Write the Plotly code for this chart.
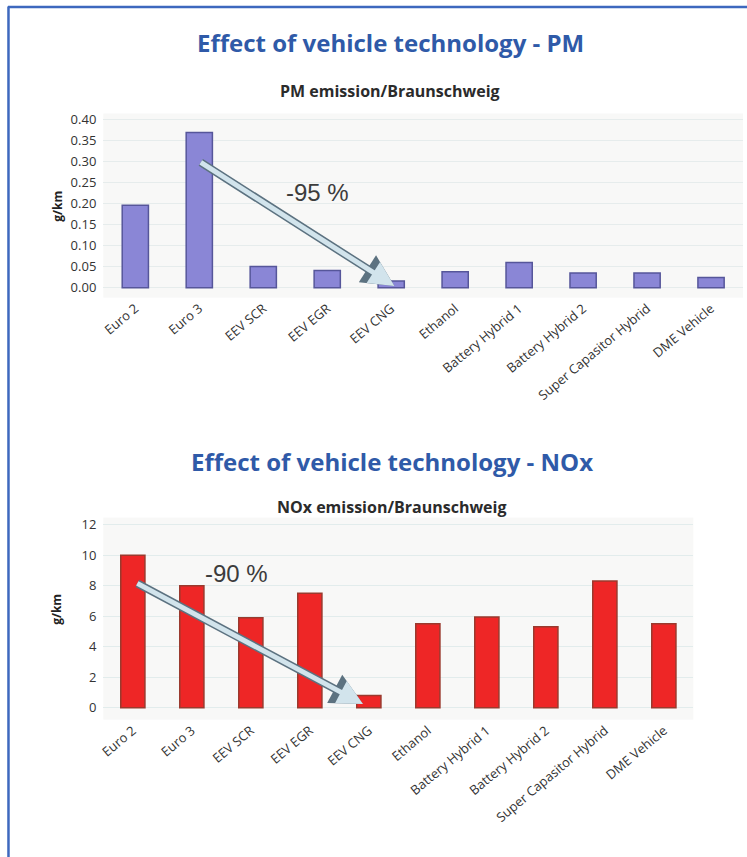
import plotly.graph_objects as go

W, H = 747, 857

categories = ["Euro 2", "Euro 3", "EEV SCR", "EEV EGR", "EEV CNG", "Ethanol",
              "Battery Hybrid 1", "Battery Hybrid 2", "Super Capasitor Hybrid", "DME Vehicle"]
pm_values = [0.196, 0.369, 0.050, 0.041, 0.016, 0.038, 0.060, 0.035, 0.035, 0.024]
nox_values = [10.0, 8.0, 5.9, 7.5, 0.8, 5.5, 5.95, 5.3, 8.3, 5.5]
pm_ticks = [0.0, 0.05, 0.10, 0.15, 0.20, 0.25, 0.30, 0.35, 0.40]
nox_ticks = [0, 2, 4, 6, 8, 10, 12]

BLUE = "#2F5AA8"
FONT = "Open Sans"


def px_x(p):
    return p / W


def px_y(p):
    return 1 - p / H


fig = go.Figure()

fig.add_trace(go.Bar(
    x=categories, y=pm_values, xaxis="x", yaxis="y",
    marker=dict(color="#8A86D6", line=dict(color="#56569A", width=1.5)),
))
fig.add_trace(go.Bar(
    x=categories, y=nox_values, xaxis="x2", yaxis="y2",
    marker=dict(color="#EE2626", line=dict(color="#9A3A2E", width=1.5)),
))

axis_common = dict(
    tickfont=dict(family=FONT, size=13, color="#333333"),
    showline=False, zeroline=False, ticks="",
)

fig.update_layout(
    width=W, height=H,
    margin=dict(l=0, r=0, t=0, b=0),
    paper_bgcolor="white",
    plot_bgcolor="#F8F8F7",
    showlegend=False,
    bargap=0.59,
    font=dict(family=FONT, color="#333333"),
    xaxis=dict(domain=[px_x(99), px_x(743)], anchor="y", tickangle=-40,
               showgrid=False, **axis_common),
    yaxis=dict(domain=[px_y(295), px_y(110)], anchor="x",
               range=[-0.0237, 0.414], tickvals=pm_ticks,
               ticktext=[f"{v:.2f}" for v in pm_ticks], ticklabelstandoff=6,
               gridcolor="#E6ECEC", gridwidth=1, **axis_common),
    xaxis2=dict(domain=[px_x(99), px_x(693)], anchor="y2", tickangle=-40,
                showgrid=False, **axis_common),
    yaxis2=dict(domain=[px_y(719), px_y(516)], anchor="x2",
                range=[-0.78, 12.46], tickvals=nox_ticks, ticklabelstandoff=6,
                gridcolor="#E2ECEC", gridwidth=1, **axis_common),
)

# arrows (outline + light fill)
arrows = [
    dict(xref="x", yref="y", x=4.05, y=0.004, ax=1.0, ay=0.30, text="-95 %",
         tx=2.85, ty=0.225),
    dict(xref="x2", yref="y2", x=3.9, y=0.25, ax=0.05, ay=8.2, text="-90 %",
         tx=1.75, ty=8.8),
]
for a in arrows:
    for color, width, size in (("#5C7280", 8, 0.8), ("#D2E4EC", 5, 1.0)):
        fig.add_annotation(
            xref=a["xref"], yref=a["yref"], x=a["x"], y=a["y"],
            axref=a["xref"], ayref=a["yref"], ax=a["ax"], ay=a["ay"],
            showarrow=True, arrowhead=2, arrowsize=size, arrowwidth=width,
            arrowcolor=color, text="",
        )
    fig.add_annotation(
        xref=a["xref"], yref=a["yref"], x=a["tx"], y=a["ty"], text=a["text"],
        showarrow=False,
        font=dict(family="Liberation Sans", size=24, color="#3C3C3C"),
    )

# titles
titles = [
    ("Effect of vehicle technology - PM", 388, 39, 24, BLUE),
    ("PM emission/Braunschweig", 388, 87, 16, "#2B2B2B"),
    ("Effect of vehicle technology - NOx", 390, 460, 24, BLUE),
    ("NOx emission/Braunschweig", 390, 505, 16, "#2B2B2B"),
]
for text, x, y, size, color in titles:
    fig.add_annotation(
        xref="paper", yref="paper", x=px_x(x), y=px_y(y), text=f"<b>{text}</b>",
        showarrow=False, xanchor="center", yanchor="middle",
        font=dict(family=FONT, size=size, color=color),
    )

for y in (203, 608):
    fig.add_annotation(
        xref="paper", yref="paper", x=px_x(52), y=px_y(y), text="<b>g/km</b>",
        showarrow=False, textangle=-90, xanchor="center", yanchor="middle",
        font=dict(family=FONT, size=12, color="#222222"),
    )

# frame
fig.add_shape(type="line", xref="paper", yref="paper",
              x0=px_x(3), x1=1, y0=px_y(3), y1=px_y(3),
              line=dict(color="#3D68BE", width=2.5))
fig.add_shape(type="line", xref="paper", yref="paper",
              x0=px_x(3.5), x1=px_x(3.5), y0=0, y1=px_y(2.5),
              line=dict(color="#3D68BE", width=2.5))

fig.write_html("out.html", config={"displayModeBar": False},
               post_script="document.body.style.margin='0';"
                           "document.body.style.overflow='hidden';")
